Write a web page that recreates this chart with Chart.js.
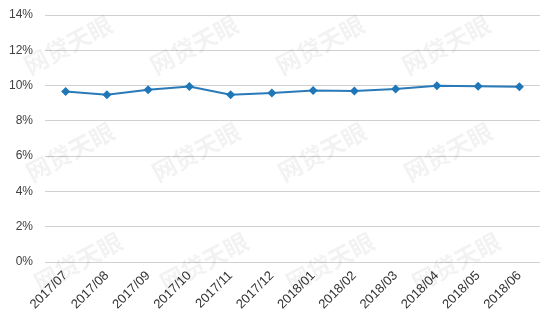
<!DOCTYPE html>
<html>
<head>
<meta charset="utf-8">
<script src="https://cdn.jsdelivr.net/npm/chart.js@4"></script>
<style>
  html, body { margin: 0; padding: 0; background: #fff; }
  #wrap { width: 554px; height: 323px; }
</style>
</head>
<body>
<div id="wrap"><canvas id="rateChart" width="554" height="323"></canvas></div>
<script>
// 月份与收益率 (%)
const months = ['2017/07', '2017/08', '2017/09', '2017/10', '2017/11', '2017/12',
                '2018/01', '2018/02', '2018/03', '2018/04', '2018/05', '2018/06'];
const rates = [9.67, 9.48, 9.76, 9.95, 9.48, 9.58, 9.72, 9.69, 9.80, 9.99, 9.96, 9.93];
const yTicks = [0, 2, 4, 6, 8, 10, 12, 14];

// 水印 "网贷天眼"
const watermark = {
    id: 'watermark',
    beforeDatasetsDraw(chart) {
        const c = chart.ctx;
        const rows = [[45, 0], [152, 2], [262, 10]];
        c.save();
        c.font = 'bold 24px "Noto Sans CJK SC"';
        c.fillStyle = 'rgba(0,0,0,0.05)';
        c.textAlign = 'center';
        c.textBaseline = 'middle';
        rows.forEach(([y, dx]) => {
            [68, 194, 320, 446].forEach(x => {
                c.save();
                c.translate(x + dx, y);
                c.rotate(-28 * Math.PI / 180);
                c.fillText('网贷天眼', 0, 0);
                c.restore();
            });
        });
        c.restore();
    }
};

const ctx = document.getElementById('rateChart').getContext('2d');
new Chart(ctx, {
    type: 'line',
    data: {
        labels: months,
        datasets: [{
            data: rates,
            borderColor: '#2a7ab9',
            borderWidth: 2,
            backgroundColor: '#1f77b8',
            pointStyle: 'rectRot',
            pointRadius: 4.5,
            pointBorderWidth: 0,
            tension: 0
        }]
    },
    options: {
        responsive: false,
        animation: false,
        layout: { padding: { top: 15, right: 14, bottom: 0, left: 0 } },
        plugins: {
            legend: { display: false },
            tooltip: { enabled: false }
        },
        scales: {
            x: {
                offset: true,
                grid: { display: false, drawTicks: false },
                border: { display: false },
                ticks: {
                    color: '#333333',
                    font: { family: 'Liberation Sans', size: 13 },
                    minRotation: 45,
                    maxRotation: 45,
                    padding: 6,
                    autoSkip: false
                },
                afterFit: (s) => { s.height = 61; }
            },
            y: {
                min: 0,
                max: 14,
                afterBuildTicks: (s) => { s.ticks = yTicks.map(v => ({ value: v })); },
                grid: { color: '#d0d0d0', lineWidth: 1, drawTicks: false },
                border: { display: false },
                ticks: {
                    color: '#404040',
                    font: { family: 'Liberation Sans', size: 12 },
                    padding: 12,
                    callback: (v) => v + '%'
                },
                afterFit: (s) => { s.width = 45; s.paddingTop = 0; }
            }
        }
    },
    plugins: [watermark]
});
</script>
</body>
</html>
